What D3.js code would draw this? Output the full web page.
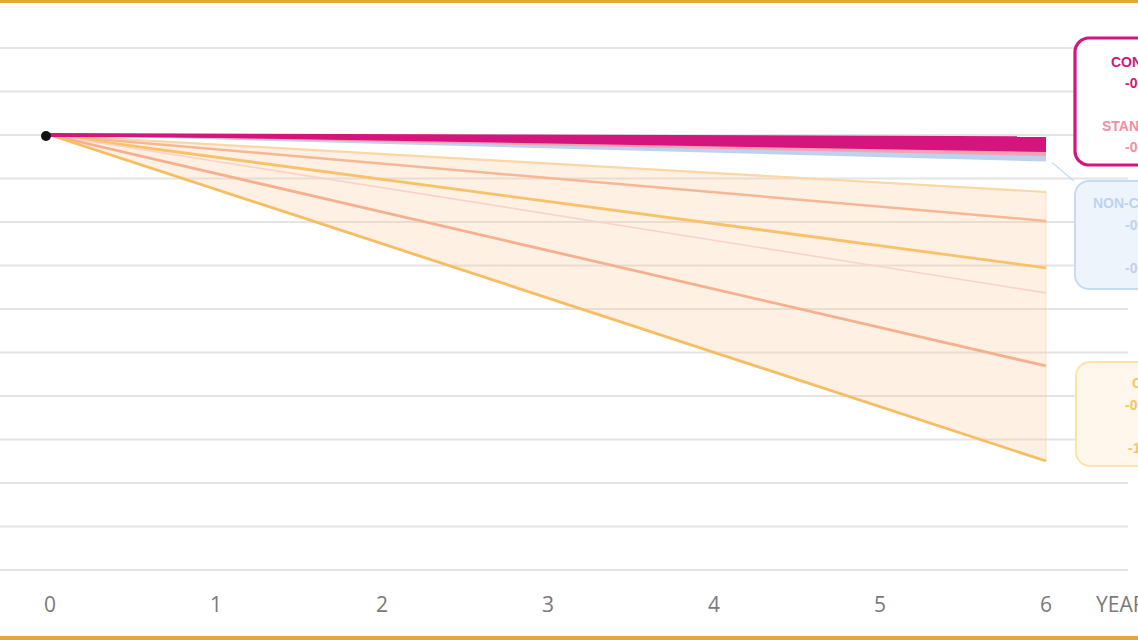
<!DOCTYPE html>
<html><head><meta charset="utf-8">
<script src="https://cdn.jsdelivr.net/npm/d3@7"></script>
<style>html,body{margin:0;padding:0;background:#fff;overflow:hidden}</style>
</head><body><svg id="c" width="1138" height="640"></svg>
<script>
// ---- data ----
const years = [0, 6];
const xTicks = [0, 1, 2, 3, 4, 5, 6];
const gridValues = [0.4, 0.2, 0, -0.2, -0.4, -0.6, -0.8, -1.0, -1.2, -1.4, -1.6, -1.8, -2.0];
const combinedTop = [0, -0.015];
const combinedBottom = [0, -0.078];
const standardBottom = [0, -0.097];
const nonBottom = [0, -0.122];
const scenarioNames = ["high", "mid-high", "mid", "low-faint", "mid-low", "low"];
const scenarioValues = [[0, -0.262], [0, -0.395], [0, -0.611], [0, -0.726], [0, -1.062], [0, -1.499]];
const rangeTop = [0, -0.262];
const rangeBottom = [0, -1.499];
const boxLabels = [
  {group: "combined", lines: ["CONSOLIDATED", "-0.01%", "", "STANDARD", "-0.08%"]},
  {group: "non", lines: ["NON-CORE", "-0.08%", "", "-0.12%"]},
  {group: "scen", lines: ["CUT", "-0.26%", "", "-1.50%"]}
];
const xTitle = "YEARS";

// ---- styles ----
const scenStyle = {
  "high": {c: "#fcd7a6", w: 2.2},
  "mid-high": {c: "#f7b794", w: 2.5},
  "mid": {c: "#f9c26a", w: 2.8},
  "low-faint": {c: "#f9d3c9", w: 1.6},
  "mid-low": {c: "#f6b08e", w: 2.8},
  "low": {c: "#f7bd62", w: 2.8}
};

const svg = d3.select("#c");
const x = d3.scaleLinear().domain([0, 6]).range([50, 1046]);
const y = d3.scaleLinear().domain([0.4, -2.0]).range([48, 570]);

// borders
svg.append("rect").attr("x", 0).attr("y", 0).attr("width", 1138).attr("height", 3).attr("fill", "#e1a93c");
svg.append("rect").attr("x", 0).attr("y", 636).attr("width", 1138).attr("height", 4).attr("fill", "#e1a93c");

// grid
svg.append("g").selectAll("line").data(gridValues).join("line")
  .attr("x1", 0).attr("x2", 1128)
  .attr("y1", d => y(d)).attr("y2", d => y(d))
  .attr("stroke", "#e4e4e4").attr("stroke-width", 2);

const pts = arr => arr.map((v, i) => [x(years[i]), y(v)]);
const band = (top, bot) => d3.area().x((d, i) => x(years[i])).y0((d, i) => y(bot[i])).y1((d, i) => y(top[i]))(top);

// scenario range fill
svg.append("path").attr("d", band(rangeTop, rangeBottom))
  .attr("fill", "rgba(252,200,152,0.27)")
  .attr("stroke", "rgba(252,200,152,0.35)").attr("stroke-width", 1.5);

const line = d3.line();
scenarioNames.forEach((n, k) => {
  svg.append("path").attr("d", line(pts(scenarioValues[k])))
    .attr("fill", "none").attr("stroke", scenStyle[n].c).attr("stroke-width", scenStyle[n].w)
    .attr("stroke-linecap", "butt");
});

// non-core band (blue), standard (pink), combined (magenta)
svg.append("path").attr("d", band(combinedTop, nonBottom)).attr("fill", "#bcd3ef");
svg.append("path").attr("d", band(combinedTop, standardBottom)).attr("fill", "#f5a3b4");
svg.append("path").attr("d", band(combinedTop, combinedBottom)).attr("fill", "#d4157d");
svg.append("path").attr("d", line(pts(combinedTop))).attr("stroke", "#d4157d").attr("stroke-width", 4).attr("fill", "none");

// connector for blue
svg.append("line").attr("x1", x(6) + 6).attr("y1", y(nonBottom[1]) + 1).attr("x2", 1074).attr("y2", 181)
  .attr("stroke", "#c9dbf2").attr("stroke-width", 1.2);

// origin dot
svg.append("circle").attr("cx", x(0) - 4).attr("cy", y(0) + 1).attr("r", 5).attr("fill", "#111");

// boxes
const boxes = [
  {g: "combined", x: 1075, y: 38, h: 127, stroke: "#d4157d", sw: 3.2, fill: "#fff"},
  {g: "non", x: 1075, y: 181, h: 108, stroke: "#c8daf2", sw: 2, fill: "#eef4fc"},
  {g: "scen", x: 1076, y: 362, h: 104, stroke: "#fde3a8", sw: 2, fill: "#fff7ec"}
];
boxes.forEach(b => {
  svg.append("rect").attr("x", b.x).attr("y", b.y).attr("width", 160).attr("height", b.h)
    .attr("rx", 14).attr("fill", b.fill).attr("stroke", b.stroke).attr("stroke-width", b.sw);
});

const textSpecs = {
  combined: [{x: 1111, y: 67, c: "#d4157d"}, {x: 1125, y: 88, c: "#d4157d"}, null, {x: 1102, y: 131, c: "#f58d9f"}, {x: 1125, y: 152, c: "#f58d9f"}],
  non: [{x: 1093, y: 208, c: "#bdd2ef"}, {x: 1125, y: 230, c: "#bdd2ef"}, null, {x: 1125, y: 273, c: "#bdd2ef"}],
  scen: [{x: 1132, y: 388, c: "#f7c65e"}, {x: 1125, y: 410, c: "#f7c65e"}, null, {x: 1128, y: 453, c: "#f7c65e"}]
};
boxLabels.forEach(bl => {
  bl.lines.forEach((t, i) => {
    const s = textSpecs[bl.group][i];
    if (!s || !t) return;
    svg.append("text").attr("x", s.x).attr("y", s.y).text(t)
      .attr("fill", s.c).attr("font-family", "Liberation Sans, Arial, sans-serif")
      .attr("font-size", 14).attr("font-weight", "bold");
  });
});

// x axis labels
svg.append("g").selectAll("text").data(xTicks).join("text")
  .attr("x", d => x(d)).attr("y", 612).attr("text-anchor", "middle")
  .attr("font-family", "Open Sans, Liberation Sans, sans-serif").attr("font-size", 21)
  .attr("fill", "#7a7a7a").text(d => d);
svg.append("text").attr("x", 1096).attr("y", 612).text(xTitle)
  .attr("font-family", "Open Sans, Liberation Sans, sans-serif").attr("font-size", 21).attr("fill", "#7a7a7a");
</script>
</body></html>
